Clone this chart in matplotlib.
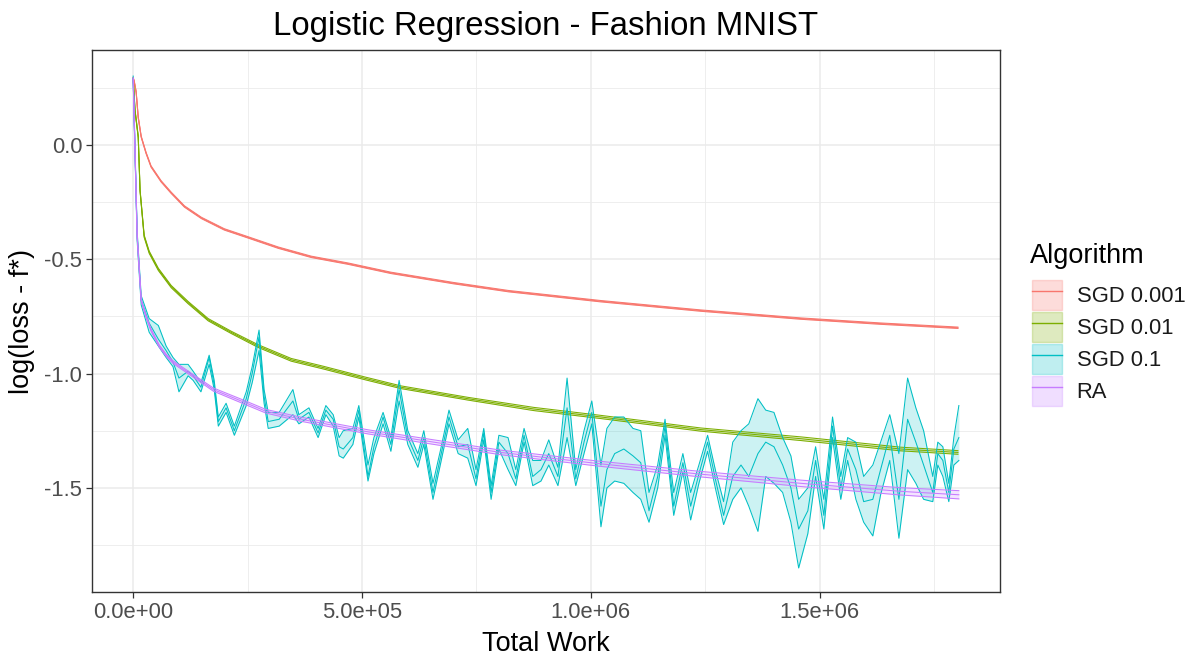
import numpy as np
import matplotlib
matplotlib.use('Agg')
import matplotlib.pyplot as plt
from matplotlib.patches import Patch
from matplotlib.lines import Line2D
from matplotlib.ticker import FixedLocator

plt.rcParams['font.family'] = ['Liberation Sans', 'DejaVu Sans']

# %% data
# SGD 0.001
x_sgd001 = [0, 2e3, 6.5e3, 11e3, 17.5e3, 28e3, 39e3, 61e3, 83e3, 112e3, 149e3, 199e3,
            251e3, 317e3, 389e3, 470e3, 563e3, 700e3, 820e3, 1022e3, 1240e3, 1459e3,
            1633e3, 1802e3]
y_sgd001 = [0.29, 0.28, 0.23, 0.12, 0.035, -0.035, -0.095, -0.16, -0.21, -0.27, -0.32,
            -0.37, -0.405, -0.45, -0.49, -0.52, -0.56, -0.605, -0.64, -0.684, -0.725,
            -0.76, -0.782, -0.80]
w_sgd001 = [0.003] * len(x_sgd001)

# SGD 0.01
x_sgd01 = [0, 4e3, 11e3, 13e3, 15e3, 19.5e3, 24e3, 35e3, 55e3, 83e3, 120e3, 164e3,
           214e3, 273e3, 345e3, 417e3, 504e3, 585e3, 731e3, 875e3, 1022e3, 1240e3,
           1459e3, 1677e3, 1802e3]
y_sgd01 = [0.29, 0.15, 0.035, -0.08, -0.20, -0.30, -0.40, -0.47, -0.545, -0.62, -0.69,
           -0.765, -0.82, -0.88, -0.94, -0.975, -1.02, -1.06, -1.11, -1.155, -1.19,
           -1.245, -1.285, -1.33, -1.345]
w_sgd01 = [0.003, 0.003, 0.004, 0.004, 0.004, 0.004, 0.005, 0.005, 0.005, 0.005, 0.005,
           0.005, 0.005, 0.006, 0.006, 0.006, 0.006, 0.006, 0.006, 0.007, 0.007, 0.007,
           0.008, 0.008, 0.008]

# SGD 0.1 (mean, lower, upper)
x_sgd1 = [0, 8.7e3, 17.5e3, 35e3, 55e3, 72e3, 87e3, 100e3, 120e3, 131e3, 148e3, 166e3,
          177e3, 186e3, 203e3, 221e3, 247e3, 260e3, 275e3, 286e3, 295e3, 319e3, 349e3,
          362e3, 384e3, 404e3, 421e3, 437e3, 450e3, 459e3, 480e3, 493e3, 513e3, 526e3,
          546e3, 563e3, 581e3, 600e3, 622e3, 635e3, 655e3, 672e3, 690e3, 710e3, 731e3,
          749e3, 766e3, 782e3, 799e3, 819e3, 836e3, 854e3, 873e3, 891e3, 908e3, 928e3,
          948e3, 967e3, 985e3, 1002e3, 1022e3, 1035e3, 1052e3, 1072e3, 1092e3, 1109e3,
          1127e3, 1146e3, 1162e3, 1181e3, 1201e3, 1218e3, 1236e3, 1255e3, 1273e3, 1290e3,
          1310e3, 1328e3, 1345e3, 1365e3, 1382e3, 1400e3, 1419e3, 1437e3, 1454e3, 1474e3,
          1491e3, 1509e3, 1528e3, 1546e3, 1561e3, 1579e3, 1596e3, 1616e3, 1633e3, 1653e3,
          1673e3, 1692e3, 1710e3, 1727e3, 1747e3, 1758e3, 1769e3, 1782e3, 1793e3, 1804e3]
y_sgd1 = [0.29, -0.40, -0.68, -0.78, -0.85, -0.90, -0.95, -1.02, -0.99, -1.01, -1.06, -0.93,
          -1.05, -1.21, -1.15, -1.25, -1.11, -1.00, -0.84, -1.10, -1.21, -1.20, -1.12,
          -1.20, -1.17, -1.26, -1.16, -1.20, -1.32, -1.33, -1.28, -1.16, -1.45, -1.32,
          -1.19, -1.31, -1.07, -1.28, -1.38, -1.28, -1.52, -1.36, -1.19, -1.32, -1.31,
          -1.46, -1.26, -1.52, -1.30, -1.35, -1.46, -1.27, -1.45, -1.42, -1.35, -1.45,
          -1.15, -1.46, -1.30, -1.17, -1.58, -1.42, -1.35, -1.33, -1.36, -1.39,
          -1.60, -1.45, -1.23, -1.58, -1.39, -1.58, -1.44, -1.30, -1.47, -1.62,
          -1.45, -1.40, -1.45, -1.35, -1.30, -1.32, -1.40, -1.50, -1.68, -1.60,
          -1.38, -1.62, -1.23, -1.50, -1.33, -1.42, -1.56, -1.55, -1.42, -1.27,
          -1.55, -1.20, -1.30, -1.40, -1.52, -1.35, -1.38, -1.52, -1.33, -1.28]
lo_sgd1 = [0.28, -0.42, -0.70, -0.82, -0.88, -0.93, -0.97, -1.08, -1.01, -1.03, -1.08, -0.96,
           -1.07, -1.23, -1.17, -1.27, -1.14, -1.04, -0.90, -1.13, -1.24, -1.23, -1.18,
           -1.22, -1.19, -1.28, -1.18, -1.23, -1.36, -1.37, -1.31, -1.19, -1.47, -1.35,
           -1.22, -1.34, -1.12, -1.31, -1.41, -1.31, -1.55, -1.39, -1.22, -1.35, -1.37,
           -1.49, -1.29, -1.55, -1.33, -1.42, -1.49, -1.30, -1.49, -1.47, -1.40, -1.49,
           -1.28, -1.49, -1.35, -1.22, -1.67, -1.50, -1.47, -1.48, -1.52, -1.55,
           -1.65, -1.50, -1.27, -1.62, -1.43, -1.64, -1.48, -1.34, -1.51, -1.66,
           -1.55, -1.50, -1.58, -1.69, -1.45, -1.48, -1.52, -1.65, -1.85, -1.70,
           -1.45, -1.68, -1.28, -1.55, -1.38, -1.55, -1.65, -1.71, -1.53, -1.38,
           -1.72, -1.42, -1.48, -1.55, -1.56, -1.40, -1.45, -1.56, -1.40, -1.38]
hi_sgd1 = [0.30, -0.38, -0.66, -0.76, -0.79, -0.88, -0.93, -0.96, -0.96, -0.99, -1.04, -0.92,
           -1.03, -1.19, -1.13, -1.23, -1.08, -0.97, -0.81, -1.07, -1.17, -1.17, -1.07,
           -1.18, -1.15, -1.24, -1.14, -1.18, -1.28, -1.25, -1.24, -1.14, -1.40, -1.28,
           -1.17, -1.28, -1.03, -1.25, -1.35, -1.25, -1.48, -1.33, -1.16, -1.29, -1.24,
           -1.42, -1.24, -1.49, -1.27, -1.28, -1.42, -1.24, -1.38, -1.38, -1.29, -1.41,
           -1.02, -1.42, -1.25, -1.12, -1.40, -1.24, -1.19, -1.19, -1.24, -1.25,
           -1.52, -1.40, -1.20, -1.52, -1.35, -1.52, -1.40, -1.27, -1.43, -1.56,
           -1.30, -1.25, -1.22, -1.11, -1.16, -1.17, -1.28, -1.36, -1.55, -1.50,
           -1.32, -1.55, -1.19, -1.45, -1.28, -1.30, -1.45, -1.40, -1.30, -1.18,
           -1.35, -1.02, -1.15, -1.25, -1.45, -1.30, -1.32, -1.48, -1.28, -1.14]

# RA
x_ra = [0, 8.7e3, 17.5e3, 28e3, 39e3, 57e3, 72e3, 87e3, 109e3, 131e3, 175e3, 242e3,
        290e3, 367e3, 513e3, 657e3, 803e3, 1022e3, 1240e3, 1459e3, 1677e3, 1804e3]
y_ra = [0.29, -0.40, -0.68, -0.75, -0.81, -0.88, -0.92, -0.95, -0.98, -1.01, -1.07,
        -1.125, -1.165, -1.20, -1.255, -1.30, -1.345, -1.395, -1.44, -1.48, -1.515, -1.53]
w_ra = [0.003, 0.004, 0.004, 0.005, 0.005, 0.005, 0.005, 0.006, 0.006, 0.006, 0.007,
        0.008, 0.008, 0.009, 0.009, 0.010, 0.010, 0.011, 0.012, 0.014, 0.016, 0.018]

labels = ['SGD 0.001', 'SGD 0.01', 'SGD 0.1', 'RA']
colors = ['#F8766D', '#7CAE00', '#00BFC4', '#C77CFF']

# %% plotting
fig = plt.figure(figsize=(11.9, 6.58), dpi=100)
ax = fig.add_axes([0.0773, 0.1003, 0.7627, 0.8237])

series = [
    (x_sgd001, y_sgd001, np.array(y_sgd001) - np.array(w_sgd001), np.array(y_sgd001) + np.array(w_sgd001)),
    (x_sgd01, y_sgd01, np.array(y_sgd01) - np.array(w_sgd01), np.array(y_sgd01) + np.array(w_sgd01)),
    (x_sgd1, y_sgd1, lo_sgd1, hi_sgd1),
    (x_ra, y_ra, np.array(y_ra) - np.array(w_ra), np.array(y_ra) + np.array(w_ra)),
]
for (x, y, lo, hi), c in zip(series, colors):
    ax.fill_between(x, lo, hi, color=c, alpha=0.2, lw=0, zorder=2)
    ax.plot(x, lo, color=c, lw=0.75, zorder=3)
    ax.plot(x, hi, color=c, lw=0.75, zorder=3)
    ax.plot(x, y, color=c, lw=0.75, zorder=3)

ax.set_xlim(-0.09e6, 1.893e6)
ax.set_ylim(-1.955, 0.414)
ax.set_xticks([0, 5e5, 1e6, 1.5e6])
ax.set_xticklabels(['0.0e+00', '5.0e+05', '1.0e+06', '1.5e+06'])
ax.set_yticks([0.0, -0.5, -1.0, -1.5])
ax.set_yticklabels(['0.0', '-0.5', '-1.0', '-1.5'])
ax.xaxis.set_minor_locator(FixedLocator([2.5e5, 7.5e5, 1.25e6, 1.75e6]))
ax.yaxis.set_minor_locator(FixedLocator([0.25, -0.25, -0.75, -1.25, -1.75]))
ax.grid(True, which='major', color='#EBEBEB', lw=1.1, zorder=0)
ax.grid(True, which='minor', color='#EBEBEB', lw=0.6, zorder=0)
ax.set_axisbelow(True)
ax.tick_params(which='major', length=4, width=0.9, color='#333333',
               labelsize=15.8, labelcolor='#4D4D4D', pad=3)
ax.tick_params(which='minor', length=0)
for s in ax.spines.values():
    s.set_color('#333333')
    s.set_linewidth(1.0)

ax.set_xlabel('Total Work', fontsize=19.5, color='black', labelpad=6)
ax.set_ylabel('log(loss - f*)', fontsize=19.5, color='black', labelpad=7)
ax.set_title('Logistic Regression - Fashion MNIST', fontsize=23.7, pad=11)

# legend: title as separate text so the gap to the keys matches
fig.text(0.8655, 1 - 256 / 658, 'Algorithm', fontsize=19.5, va='center', ha='left')
handles = [(Patch(facecolor=c, edgecolor=c, alpha=0.25, lw=1.0),
            Line2D([], [], color=c, lw=1.0)) for c in colors]
leg = fig.legend(handles, labels, loc='upper left',
                 bbox_to_anchor=(0.867, 1 - 280 / 658), frameon=False, fontsize=15.8,
                 handlelength=1.37, handleheight=1.73,
                 labelspacing=0.09, handletextpad=0.68, borderpad=0, borderaxespad=0)
for t in leg.get_texts():
    t.set_color('#1A1A1A')

plt.savefig('out.png', dpi=100)
plt.close('all')
